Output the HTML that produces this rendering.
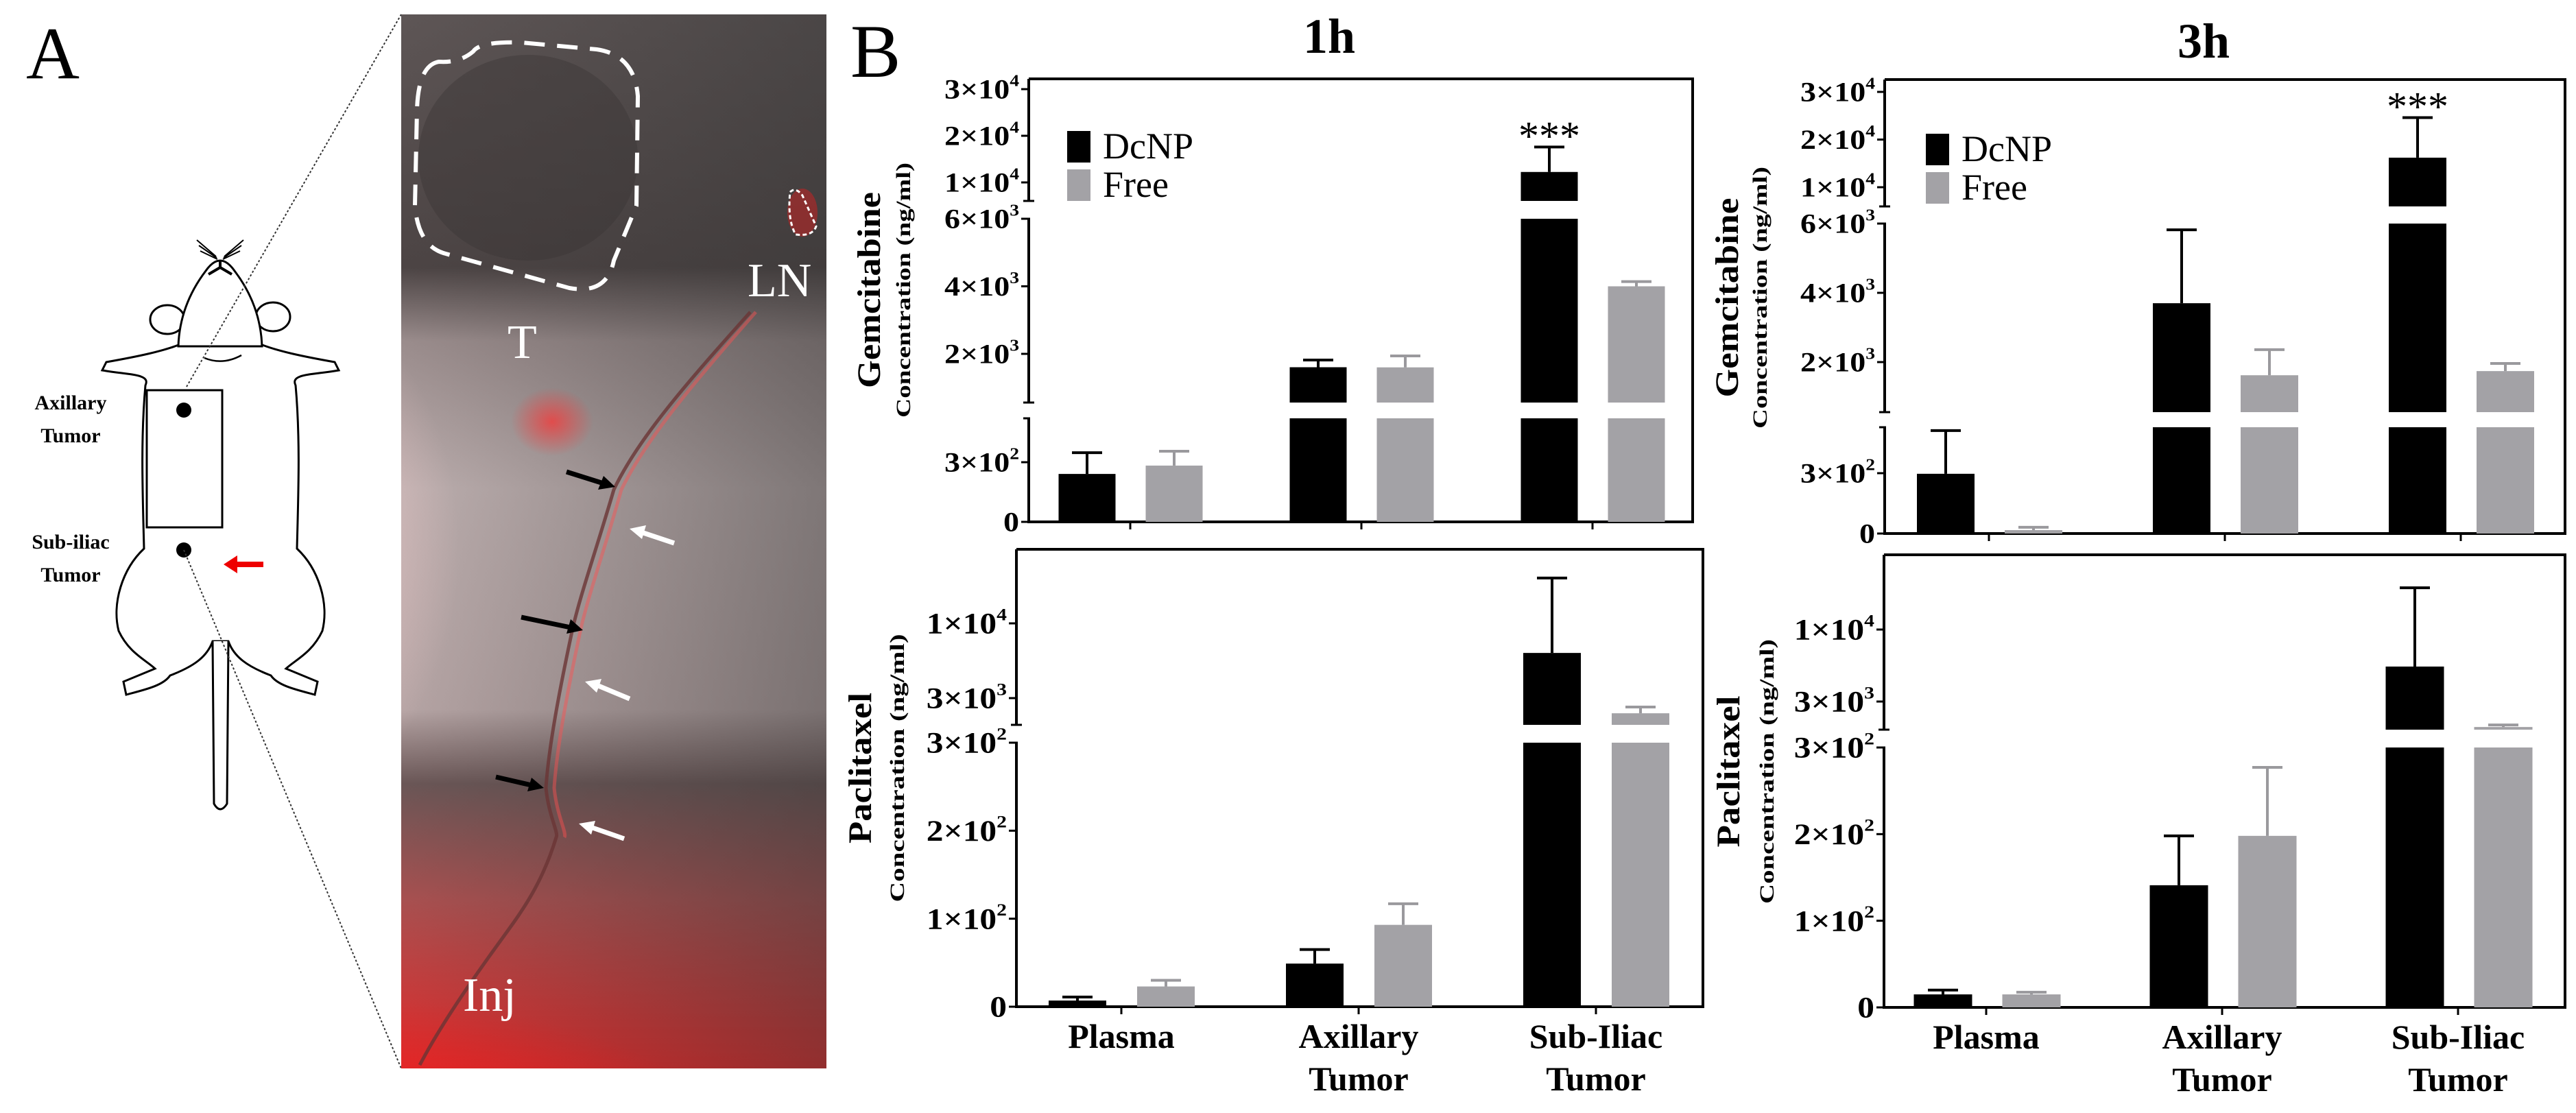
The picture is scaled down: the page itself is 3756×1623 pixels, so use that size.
<!DOCTYPE html>
<html><head><meta charset="utf-8">
<style>
html,body{margin:0;padding:0;background:#fff;width:3756px;height:1623px;overflow:hidden;}
svg{display:block;overflow:hidden;}
text{font-family:"Liberation Serif",serif;}
</style></head>
<body>
<svg id="fig" width="3756" height="1623" viewBox="0 0 3756 1623" xmlns="http://www.w3.org/2000/svg">
<defs>
 <linearGradient id="photoBase" x1="0" y1="0" x2="0" y2="1">
  <stop offset="0" stop-color="#5e5656"/>
  <stop offset="0.24" stop-color="#4c4444"/>
  <stop offset="0.31" stop-color="#9a8c8c"/>
  <stop offset="0.45" stop-color="#bcaeae"/>
  <stop offset="0.66" stop-color="#b5a4a4"/>
  <stop offset="0.73" stop-color="#6a5656"/>
  <stop offset="0.84" stop-color="#a85050"/>
  <stop offset="1" stop-color="#e02a2a"/>
 </linearGradient>
 <radialGradient id="pinkLeft" cx="0.1" cy="0.5" r="0.5">
  <stop offset="0" stop-color="#f4cccc" stop-opacity="0.95"/>
  <stop offset="1" stop-color="#f0c8c8" stop-opacity="0"/>
 </radialGradient>
 <radialGradient id="redBottom" cx="0.3" cy="1" r="0.6">
  <stop offset="0" stop-color="#ff1010" stop-opacity="1"/>
  <stop offset="0.6" stop-color="#ee2020" stop-opacity="0.6"/>
  <stop offset="1" stop-color="#e02020" stop-opacity="0"/>
 </radialGradient>
 <radialGradient id="redSpot" cx="0.5" cy="0.5" r="0.5">
  <stop offset="0" stop-color="#ff3030" stop-opacity="0.7"/>
  <stop offset="1" stop-color="#ff3030" stop-opacity="0"/>
 </radialGradient>
 <linearGradient id="rightDark" x1="0" y1="0" x2="1" y2="0">
  <stop offset="0" stop-color="#333" stop-opacity="0"/>
  <stop offset="1" stop-color="#333" stop-opacity="0.45"/>
 </linearGradient>
 <clipPath id="photoClip"><rect x="585" y="21" width="620" height="1537"/></clipPath>
</defs>

<text x="38" y="114" font-size="108">A</text>

<g fill="none" stroke="#000" stroke-width="3">
 <path fill="#fff" d="M268 500 C240 512 200 520 155 528 L149 540 C190 547 220 545 212 562 C205 640 208 720 210 800 C178 830 163 880 173 920 C188 952 212 962 226 975 L180 994 L184 1013 C210 1006 238 1000 248 985 C282 972 302 958 310 935 L333 935 C341 958 361 972 395 985 C405 1000 433 1006 459 1013 L463 994 L417 975 C431 962 455 952 470 920 C480 880 465 830 433 800 C435 720 438 640 431 562 C423 545 453 547 494 540 L488 528 C443 520 403 512 375 500 Z"/>
 <path fill="#fff" d="M310 935 L312 1172 Q321 1188 331 1172 L333 935"/>
 <ellipse cx="244" cy="466" rx="25" ry="21" fill="#fff"/>
 <ellipse cx="398" cy="462" rx="25" ry="21" fill="#fff"/>
 <path fill="#fff" d="M260 505 Q262 445 300 395 Q321 365 342 395 Q380 445 382 505 Z"/>
 <path d="M304 400 L321 390 L338 400 M321 390 L321 380" stroke-width="4"/>
 <path d="M315 374 L287 350 M316 376 L290 358 M317 378 L292 366 M327 374 L355 350 M326 376 L352 358 M325 378 L350 366" stroke-width="2"/>
 <path d="M298 522 Q325 533 352 518" stroke-width="2.5"/>
 <rect x="214" y="569" width="110" height="200" fill="none" stroke-width="3"/>
</g>
<circle cx="268" cy="598" r="11" fill="#000"/>
<circle cx="268" cy="802" r="11" fill="#000"/>
<g>
 <line x1="384" y1="823" x2="342" y2="823" stroke="#e00" stroke-width="8"/>
 <polygon points="326,823 346,810 346,836" fill="#e00"/>
</g>
<g font-weight="bold" font-size="30" text-anchor="middle">
 <text x="103" y="597">Axillary</text>
 <text x="103" y="645">Tumor</text>
 <text x="103" y="800">Sub-iliac</text>
 <text x="103" y="848">Tumor</text>
</g>
<line x1="272" y1="564" x2="585" y2="21" stroke="#333" stroke-width="2" stroke-dasharray="3,3"/>
<line x1="268" y1="802" x2="585" y2="1558" stroke="#333" stroke-width="2" stroke-dasharray="3,3"/>

<g clip-path="url(#photoClip)">
 <rect x="585" y="21" width="620" height="1537" fill="url(#photoBase)"/>
 <rect x="585" y="21" width="620" height="1537" fill="url(#rightDark)"/>
 <ellipse cx="610" cy="800" rx="300" ry="400" fill="url(#pinkLeft)"/>
 <ellipse cx="760" cy="1520" rx="520" ry="300" fill="url(#redBottom)"/>
 <ellipse cx="805" cy="615" rx="60" ry="50" fill="url(#redSpot)"/>
 <ellipse cx="770" cy="230" rx="160" ry="150" fill="#3a3434" opacity="0.4"/>
 <ellipse cx="1170" cy="310" rx="22" ry="35" fill="#d02020" opacity="0.5"/>
 <path d="M1094 455 C1000 560 930 640 895 714 C870 800 845 870 834 921 C815 1010 800 1090 796 1149 C800 1190 815 1215 811 1221 C790 1290 760 1330 734 1366 C680 1440 640 1500 612 1553" fill="none" stroke="#6a3535" stroke-width="5" opacity="0.8"/>
 <path d="M1102 455 C1010 560 942 640 906 714 C882 800 857 870 846 921 C827 1010 812 1090 808 1149 C812 1190 827 1215 823 1221" fill="none" stroke="#ff5050" stroke-width="5" opacity="0.45"/>
</g>
<path d="M640 90 Q610 95 608 160 L605 300 Q610 360 650 370 L830 420 Q885 430 895 380 L928 300 L930 140 Q925 80 870 72 L760 62 Q700 60 690 75 Q670 92 640 90 Z" fill="none" stroke="#fff" stroke-width="6" stroke-dasharray="30,18"/>
<path d="M1152 280 Q1160 272 1170 285 L1190 330 Q1185 345 1160 342 Q1148 320 1152 280 Z" fill="none" stroke="#fff" stroke-width="3" stroke-dasharray="6,4"/>
<g fill="#fff" font-size="70">
 <text x="740" y="522">T</text>
 <text x="1090" y="432">LN</text>
 <text x="675" y="1474">Inj</text>
</g>
<g stroke-width="7">
 <line x1="826" y1="688" x2="880" y2="705" stroke="#000"/><polygon points="897,710 872,714 880,694" fill="#000"/>
 <line x1="760" y1="900" x2="832" y2="915" stroke="#000"/><polygon points="850,919 826,924 832,903" fill="#000"/>
 <line x1="723" y1="1133" x2="775" y2="1145" stroke="#000"/><polygon points="793,1149 769,1154 775,1134" fill="#000"/>
 <line x1="983" y1="792" x2="935" y2="776" stroke="#fff"/><polygon points="918,771 942,766 936,786" fill="#fff"/>
 <line x1="918" y1="1019" x2="870" y2="999" stroke="#fff"/><polygon points="853,994 877,990 870,1010" fill="#fff"/>
 <line x1="910" y1="1223" x2="861" y2="1206" stroke="#fff"/><polygon points="844,1201 868,1197 862,1217" fill="#fff"/>
</g>

<text x="1240" y="112" font-size="110">B</text>
<text x="1938" y="77" font-size="72" font-weight="bold" text-anchor="middle">1h</text>
<text x="3213" y="84" font-size="72" font-weight="bold" text-anchor="middle">3h</text>
<g id="charts"></g>
</svg>

<script>
const categories = ['Plasma', 'Axillary|Tumor', 'Sub-Iliac|Tumor'];
const seriesNames = ['DcNP', 'Free'];

const gem1hDcNP = [241, 1604, 12240];
const gem1hDcNPErr = [107, 213, 5360];
const gem1hFree = [283, 1600, 4000];
const gem1hFreeErr = [72, 340, 140];

const gem3hDcNP = [297, 3700, 16200];
const gem3hDcNPErr = [215, 2120, 8400];
const gem3hFree = [17, 1620, 1740];
const gem3hFreeErr = [14, 740, 220];

const pac1hDcNP = [7, 49, 6210];
const pac1hDcNPErr = [4, 16, 14560];
const pac1hFree = [23, 93, 2350];
const pac1hFreeErr = [7, 24, 250];

const pac3hDcNP = [15, 141, 5385];
const pac3hDcNPErr = [5, 57, 14700];
const pac3hFree = [15, 198, 1960];
const pac3hFreeErr = [2.5, 79, 70];

const gemTickValues = [0, 300, 2000, 4000, 6000, 10000, 20000, 30000];
const gemTickMant = ['0', '3×10', '2×10', '4×10', '6×10', '1×10', '2×10', '3×10'];
const gemTickExp = ['', '2', '3', '3', '3', '4', '4', '4'];
const pacTickValues = [0, 100, 200, 300, 3000, 10000];
const pacTickMant = ['0', '1×10', '2×10', '3×10', '3×10', '1×10'];
const pacTickExp = ['', '2', '2', '2', '3', '4'];

const sigMarks1h = ['', '', '***'];
const sigMarks3h = ['', '', '***'];

const NS = 'http://www.w3.org/2000/svg';
const root = document.getElementById('charts');
const BLACK = '#000', GRAY = '#a3a2a6';

function mk(tag, attrs, parent) {
  const e = document.createElementNS(NS, tag);
  for (const k in attrs) e.setAttribute(k, attrs[k]);
  (parent || root).appendChild(e);
  return e;
}
function segMap(s, v) {
  if (s.type === 'log') return s.p0 + (Math.log(v) - Math.log(s.v0)) / (Math.log(s.v1) - Math.log(s.v0)) * (s.p1 - s.p0);
  return s.p0 + (v - s.v0) / (s.v1 - s.v0) * (s.p1 - s.p0);
}
function segInv(s, p) {
  if (s.type === 'log') return s.v0 * Math.pow(s.v1 / s.v0, (p - s.p0) / (s.p1 - s.p0));
  return s.v0 + (p - s.p0) / (s.p1 - s.p0) * (s.v1 - s.v0);
}
function yScale(P, v) {
  for (let i = 0; i < P.segs.length; i++) {
    const s = P.segs[i];
    const lo = segInv(s, s.bot), hi = segInv(s, s.topP);
    if (v <= hi || i === P.segs.length - 1) {
      if (v < lo) return s.bot;
      return Math.max(P.top, segMap(s, v));
    }
  }
}

const panels = [
  { name: 'gemcitabine-1h', left: 1500, right: 2468, top: 115, base: 761, first: 148, step: 337, off: [-63, 64], bw: 83,
    segs: [{ v0: 0, v1: 300, p0: 761, p1: 674, bot: 761, topP: 610 },
           { v0: 2000, v1: 6000, p0: 516, p1: 319, bot: 587, topP: 319 },
           { v0: 10000, v1: 30000, p0: 266, p1: 130, bot: 293, topP: 115 }],
    ticks: gemTickValues, mant: gemTickMant, exp: gemTickExp, lblFont: 40,
    d: [gem1hDcNP, gem1hFree], e: [gem1hDcNPErr, gem1hFreeErr], sig: sigMarks1h,
    legend: { x: 1556, y: 191 }, title: 'Gemcitabine', tx: 1283, tcy: 423, tlen: 286, cx: 1327, clen: 372, xlabels: false },
  { name: 'gemcitabine-3h', left: 2748, right: 3740, top: 116, base: 778, first: 152, step: 344, off: [-63, 65], bw: 84,
    segs: [{ v0: 0, v1: 300, p0: 778, p1: 690, bot: 778, topP: 623 },
           { v0: 2000, v1: 6000, p0: 528, p1: 326, bot: 601, topP: 326 },
           { v0: 10000, v1: 30000, p0: 273, p1: 134, bot: 301, topP: 116 }],
    ticks: gemTickValues, mant: gemTickMant, exp: gemTickExp, lblFont: 40,
    d: [gem3hDcNP, gem3hFree], e: [gem3hDcNPErr, gem3hFreeErr], sig: sigMarks3h,
    legend: { x: 2808, y: 195 }, title: 'Gemcitabine', tx: 2534, tcy: 434, tlen: 291, cx: 2576, clen: 382, xlabels: false },
  { name: 'paclitaxel-1h', left: 1482, right: 2483, top: 801, base: 1468, first: 153, step: 346, off: [-64, 65], bw: 84,
    segs: [{ v0: 0, v1: 300, p0: 1468, p1: 1083, bot: 1468, topP: 1083 },
           { v0: 3000, v1: 10000, p0: 1018, p1: 909, bot: 1057, topP: 801, type: 'log' }],
    ticks: pacTickValues, mant: pacTickMant, exp: pacTickExp, lblFont: 43,
    d: [pac1hDcNP, pac1hFree], e: [pac1hDcNPErr, pac1hFreeErr], sig: ['', '', ''],
    legend: null, title: 'Paclitaxel', tx: 1270, tcy: 1120, tlen: 220, cx: 1318, clen: 391, xlabels: true },
  { name: 'paclitaxel-3h', left: 2747, right: 3740, top: 809, base: 1469, first: 149, step: 344, off: [-63, 66], bw: 85,
    segs: [{ v0: 0, v1: 300, p0: 1469, p1: 1090, bot: 1469, topP: 1090 },
           { v0: 3000, v1: 10000, p0: 1023, p1: 918, bot: 1064, topP: 809, type: 'log' }],
    ticks: pacTickValues, mant: pacTickMant, exp: pacTickExp, lblFont: 43,
    d: [pac3hDcNP, pac3hFree], e: [pac3hDcNPErr, pac3hFreeErr], sig: ['', '', ''],
    legend: null, title: 'Paclitaxel', tx: 2536, tcy: 1125, tlen: 221, cx: 2586, clen: 386, xlabels: true }
];

panels.forEach(P => {
  const g = mk('g', {});
  
  

  const frame = mk('path', { d: `M${P.left} ${P.top} L${P.right} ${P.top} L${P.right} ${P.base} L${P.left - 2} ${P.base}`, fill: 'none', stroke: '#000', 'stroke-width': 4 }, g);
  
  

  P.segs.forEach((s, i) => {
    const sp = mk('line', { x1: P.left, x2: P.left, y1: s.bot + (i === 0 ? 2 : 0), y2: s.topP, stroke: '#000', 'stroke-width': 4 }, g);
    
    
    if (i > 0) {
      const bk = mk('line', { x1: P.left - 8, x2: P.left + 8, y1: s.bot, y2: s.bot, stroke: '#000', 'stroke-width': 3 }, g);
      
      
    }
    if (i < P.segs.length - 1) {
      const bk2 = mk('line', { x1: P.left - 8, x2: P.left + 2, y1: s.topP, y2: s.topP, stroke: '#000', 'stroke-width': 3 }, g);
      
      
    }
  });

  P.ticks.forEach((v, i) => {
    const y = yScale(P, v);
    const t = mk('line', { x1: P.left - 11, x2: P.left, y1: y, y2: y, stroke: '#000', 'stroke-width': 3 }, g);
    
    
    const fs = P.lblFont;
    const lg = mk('g', { transform: `translate(${P.left - 14},${y + fs * 0.34}) scale(1.15,1)` }, g);
    const tx = mk('text', { x: 0, y: 0, 'font-size': fs, 'font-weight': 'bold', 'text-anchor': 'end' }, lg);
    
    
    const t1 = mk('tspan', {}, tx); t1.textContent = P.mant[i];
    if (P.exp[i]) { const t2 = mk('tspan', { dy: -fs * 0.45, 'font-size': fs * 0.6 }, tx); t2.textContent = P.exp[i]; }
  });

  const yt = mk('text', { transform: `translate(${P.tx},${P.tcy}) rotate(-90)`, 'text-anchor': 'middle', 'font-weight': 'bold', 'font-size': 48, textLength: P.tlen, lengthAdjust: 'spacingAndGlyphs' }, g);
  
  
  yt.textContent = P.title;
  const yc = mk('text', { transform: `translate(${P.cx},${P.tcy}) rotate(-90)`, 'text-anchor': 'middle', 'font-weight': 'bold', 'font-size': 30, textLength: P.clen, lengthAdjust: 'spacingAndGlyphs' }, g);
  
  
  yc.textContent = 'Concentration (ng/ml)';

  categories.forEach((c, ci) => {
    const cx = P.left + P.first + ci * P.step;
    const xt = mk('line', { x1: cx, x2: cx, y1: P.base, y2: P.base + 11, stroke: '#000', 'stroke-width': 3 }, g);
    
    
    if (P.xlabels) {
      c.split('|').forEach((line, li) => {
        const xl = mk('text', { x: cx, y: P.base + 60 + li * 62, 'text-anchor': 'middle', 'font-weight': 'bold', 'font-size': 50 }, g);
        
        
        xl.textContent = line;
      });
    }
    [0, 1].forEach(si => {
      const v = P.d[si][ci], err = P.e[si][ci];
      const col = si === 0 ? BLACK : GRAY;
      const bx = cx + P.off[si] - P.bw / 2;
      P.segs.forEach(s => {
        const lo = segInv(s, s.bot);
        if (v > lo) {
          const yTop = Math.max(s.topP, segMap(s, v));
          const r = mk('rect', { x: bx, y: yTop, width: P.bw, height: Math.max(0, s.bot - yTop), fill: col }, g);
          
          
        }
      });
      const yv = yScale(P, v), ye = yScale(P, v + err);
      const ec = si === 0 ? '#000' : '#9a999d';
      const el = mk('line', { x1: cx + P.off[si], x2: cx + P.off[si], y1: yv, y2: ye, stroke: ec, 'stroke-width': 4 }, g);
      
      
      const cap = mk('line', { x1: cx + P.off[si] - 22, x2: cx + P.off[si] + 22, y1: ye, y2: ye, stroke: ec, 'stroke-width': 4 }, g);
      
      
      if (si === 0 && P.sig[ci]) {
        const st = mk('text', { x: cx + P.off[si], y: ye + 4, 'text-anchor': 'middle', 'font-size': 60 }, g);
        
        
        st.textContent = P.sig[ci];
      }
    });
  });

  if (P.legend) {
    [0, 1].forEach(si => {
      const ly = P.legend.y + si * 56;
      const sw = mk('rect', { x: P.legend.x, y: ly, width: 34, height: 46, fill: si === 0 ? BLACK : GRAY }, g);
      
      
      const lt = mk('text', { x: P.legend.x + 52, y: ly + 40, 'font-size': 54 }, g);
      
      
      lt.textContent = seriesNames[si];
    });
  }
});
</script>
</body></html>
